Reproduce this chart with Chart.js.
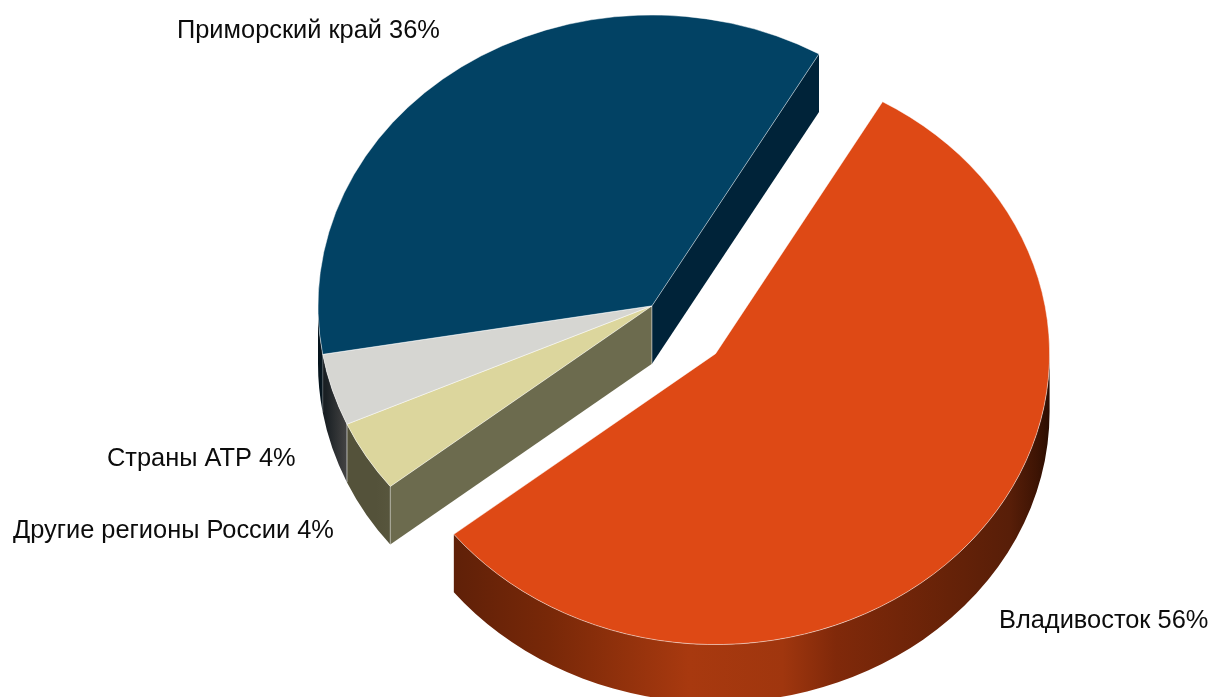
<!DOCTYPE html>
<html><head><meta charset="utf-8">
<style>html,body{margin:0;padding:0;background:#fff;overflow:hidden}canvas{display:block;filter:blur(0.45px)}</style>
<script src="https://cdn.jsdelivr.net/npm/chart.js@4"></script>
</head><body>
<canvas id="c" width="1214" height="697"></canvas>
<script>
const categories = ['Владивосток','Другие регионы России','Страны АТР','Приморский край'];
const values = [56,4,4,36];
const topColors = ['#de4915','#dcd69d','#d6d6d2','#024264'];
const wallColors = ['#5f2008','#6c6b4e','#555555','#002339'];
const explode = [84,0,0,0];
const rimStops = [
  [[0,'#401505'],[0.106,'#5f2008'],[0.25,'#782808'],[0.46,'#a8390f'],[0.6,'#a0360e'],[0.68,'#80290a'],[0.85,'#662208'],[0.94,'#581e08'],[0.98,'#3e1404'],[1,'#2c0e02']],
  [[0,'#54523a'],[0.087,'#54523a'],[0.21,'#67664a'],[1,'#67664a']],
  [[0,'#161c20'],[0.012,'#1a2024'],[0.04,'#404040'],[0.087,'#58585a'],[1,'#58585a']],
  [[0,'#04131c'],[0.02,'#0b1c26'],[1,'#0b1c26']]
];
const labelSpots = [[999,628],[13,538],[107,466],[177,38]];
const squash = 0.871, depth = 58, rotationDeg = 30;

const pie3d = {
  id:'pie3d',
  afterDatasetsUpdate(chart){
    chart.getDatasetMeta(0).data.forEach((a,i)=>{
      const m=(a.startAngle+a.endAngle)/2;
      a.x+=Math.cos(m)*explode[i]; a.y+=Math.sin(m)*explode[i];
    });
  },
  beforeDatasetsDraw(chart){
    const ctx=chart.ctx, arcs=chart.getDatasetMeta(0).data, n=arcs.length;
    const py=(a,t)=>squash*(a.y+a.outerRadius*Math.sin(t));
    const px=(a,t)=>a.x+a.outerRadius*Math.cos(t);
    const edge=(x,y)=>{ctx.beginPath();ctx.moveTo(x,y);ctx.lineTo(x,y+depth);ctx.stroke();};
    ctx.save();
    ctx.lineWidth=1; ctx.strokeStyle='rgba(255,255,255,0.4)';
    // radial walls: only those facing the viewer and not closed off by a touching neighbour
    arcs.forEach((a,i)=>{
      const prev=arcs[(i+n-1)%n], next=arcs[(i+1)%n];
      [[a.startAngle,-Math.cos(a.startAngle),prev],[a.endAngle,Math.cos(a.endAngle),next]].forEach(([t,facing,nb])=>{
        if(facing<=0 || (nb.x===a.x && nb.y===a.y)) return;
        const cy=squash*a.y, ox=px(a,t), oy=py(a,t);
        ctx.fillStyle=wallColors[i];
        ctx.beginPath();ctx.moveTo(a.x,cy);ctx.lineTo(ox,oy);ctx.lineTo(ox,oy+depth);ctx.lineTo(a.x,cy+depth);ctx.closePath();ctx.fill();
        edge(a.x,cy);
      });
    });
    // outer rims on the near half of the ellipse
    arcs.forEach((a,i)=>{
      for(let turn=-1;turn<=1;turn++){
        const lo=Math.max(a.startAngle,turn*2*Math.PI), hi=Math.min(a.endAngle,turn*2*Math.PI+Math.PI);
        if(hi<=lo) continue;
        const g=ctx.createLinearGradient(a.x-a.outerRadius,0,a.x+a.outerRadius,0);
        rimStops[i].forEach(([f,c])=>g.addColorStop(f,c));
        ctx.fillStyle=g;
        const ry=a.outerRadius*squash, cy=a.y*squash;
        ctx.beginPath();
        ctx.ellipse(a.x,cy,a.outerRadius,ry,0,lo,hi,false);
        ctx.ellipse(a.x,cy+depth,a.outerRadius,ry,0,hi,lo,true);
        ctx.closePath();ctx.fill();
        if(i===1||i===2){ edge(px(a,lo),py(a,lo)); edge(px(a,hi),py(a,hi)); }
      }
    });
    ctx.restore();
    ctx.save();
    ctx.scale(1,squash);
  },
  afterDatasetsDraw(chart){ chart.ctx.restore(); },
  afterDraw(chart){
    const ctx=chart.ctx;
    ctx.save();
    ctx.font='25.4px "Liberation Sans"';
    ctx.fillStyle='#0c0c0c';
    ctx.textBaseline='alphabetic';
    categories.forEach((c,i)=>ctx.fillText(c+' '+values[i]+'%',labelSpots[i][0],labelSpots[i][1]));
    ctx.restore();
  }
};

new Chart(document.getElementById('c'),{
  type:'pie',
  data:{labels:categories,datasets:[{data:values,backgroundColor:topColors,borderColor:'rgba(255,255,255,0.5)',borderWidth:1,clip:false}]},
  options:{
    responsive:false,animation:false,
    rotation:rotationDeg,radius:334,
    layout:{padding:{left:90,right:0,top:5.3,bottom:0}},
    plugins:{legend:{display:false},tooltip:{enabled:false}}
  },
  plugins:[pie3d]
});
</script>
</body></html>
